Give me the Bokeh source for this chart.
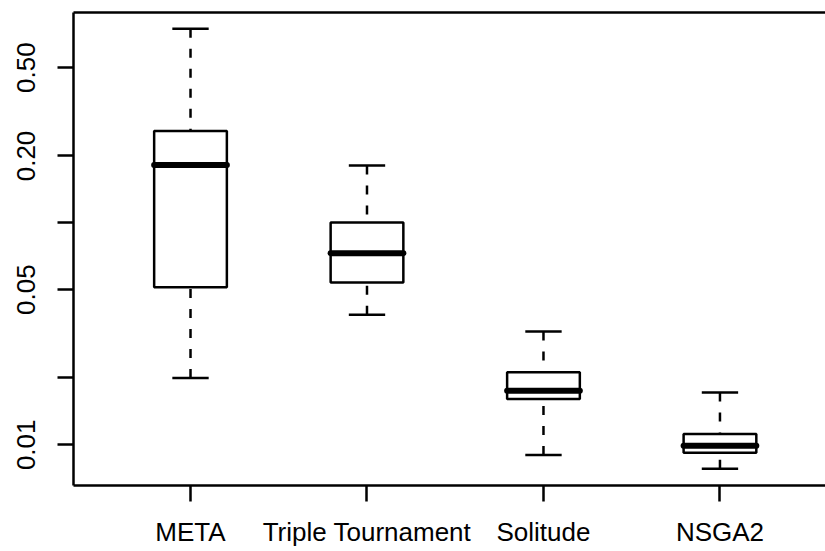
from bokeh.plotting import figure
from bokeh.models import FixedTicker, LinearAxis, Range1d
from bokeh.embed import file_html
from bokeh.resources import INLINE

# ---- data ----
categories = ["META", "Triple Tournament", "Solitude", "NSGA2"]
positions = [1, 2, 3, 4]
whisker_low = [0.0200, 0.0385, 0.0090, 0.0078]
q1 = [0.0513, 0.0538, 0.0161, 0.0092]
median = [0.182, 0.0730, 0.0175, 0.0099]
q3 = [0.259, 0.1003, 0.0212, 0.0112]
whisker_high = [0.748, 0.181, 0.0324, 0.0172]

y_ticks = [0.01, 0.02, 0.05, 0.1, 0.2, 0.5]
y_tick_labels = ["0.01", "", "0.05", "", "0.20", "0.50"]

box_width = 0.412
cap_width = 0.206

FONT = "Liberation Sans"
FS = "26px"
LW = 2.5

p = figure(width=825, height=551, output_backend="svg", toolbar_location=None,
           y_axis_type="log",
           x_range=Range1d(0.337, 4.598), y_range=Range1d(0.006557, 0.8857),
           min_border_left=73, min_border_right=0, min_border_top=12, min_border_bottom=66)
p.outline_line_color = None
p.xgrid.visible = False
p.ygrid.visible = False
p.background_fill_color = "white"
p.border_fill_color = "white"

left = [x - box_width / 2 for x in positions]
right = [x + box_width / 2 for x in positions]
cap_l = [x - cap_width / 2 for x in positions]
cap_r = [x + cap_width / 2 for x in positions]

# whiskers (dashed), drawn from whisker end toward the box
p.segment(x0=positions, y0=whisker_high, x1=positions, y1=q3,
          line_color="black", line_width=LW, line_dash="9 11")
p.segment(x0=positions, y0=whisker_low, x1=positions, y1=q1,
          line_color="black", line_width=LW, line_dash="9 11")
# caps
p.segment(x0=cap_l, y0=whisker_high, x1=cap_r, y1=whisker_high,
          line_color="black", line_width=LW)
p.segment(x0=cap_l, y0=whisker_low, x1=cap_r, y1=whisker_low,
          line_color="black", line_width=LW)
# boxes
p.quad(left=left, right=right, bottom=q1, top=q3,
       fill_color="white", line_color="black", line_width=LW)
# medians
p.segment(x0=left, y0=median, x1=right, y1=median,
          line_color="black", line_width=6, line_cap="round")

# x axis
xa = p.xaxis[0]
xa.ticker = FixedTicker(ticks=positions)
xa.major_label_overrides = {pos: lab for pos, lab in zip(positions, categories)}
# y axis
ya = p.yaxis[0]
ya.ticker = FixedTicker(ticks=y_ticks)
ya.major_label_overrides = {t: lab for t, lab in zip(y_ticks, y_tick_labels)}
ya.major_label_orientation = "vertical"

for ax in (xa, ya):
    ax.axis_line_width = LW
    ax.axis_line_color = "black"
    ax.major_tick_line_width = LW
    ax.major_tick_line_color = "black"
    ax.major_tick_out = 16
    ax.major_tick_in = 0
    ax.minor_tick_line_color = None
    ax.major_label_text_font = FONT
    ax.major_label_text_font_size = FS
    ax.major_label_text_color = "black"
xa.major_label_standoff = 15
ya.major_label_standoff = 22

# top frame line
top_axis = LinearAxis(ticker=FixedTicker(ticks=[]), axis_line_width=LW,
                      axis_line_color="black", major_label_text_font_size="0px",
                      major_tick_line_color=None, minor_tick_line_color=None)
p.add_layout(top_axis, "above")

open("out.html", "w").write(file_html(p, INLINE))
